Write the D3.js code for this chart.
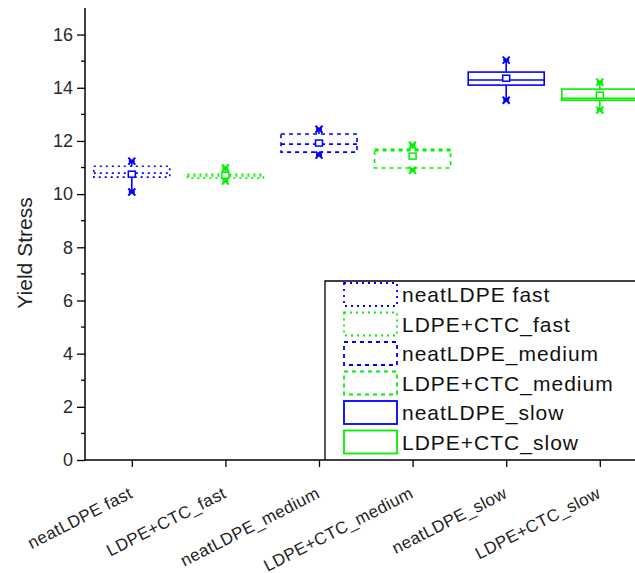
<!DOCTYPE html>
<html><head><meta charset="utf-8">
<script src="https://cdn.jsdelivr.net/npm/d3@7"></script>
<style>body{margin:0;background:#fff}svg{display:block}text{font-family:"Liberation Sans",Arial,sans-serif}</style>
</head><body>
<svg id="c" width="635" height="573"></svg>
<script>
const categories = ["neatLDPE fast","LDPE+CTC_fast","neatLDPE_medium","LDPE+CTC_medium","neatLDPE_slow","LDPE+CTC_slow"];
const legendLabels = ["neatLDPE fast","LDPE+CTC_fast","neatLDPE_medium","LDPE+CTC_medium","neatLDPE_slow","LDPE+CTC_slow"];
const whiskerLow  = [10.08, 10.49, 11.47, 10.90, 13.53, 13.16];
const q1          = [10.64, 10.60, 11.58, 10.98, 14.10, 13.53];
const median      = [10.79, 10.68, 11.88, 11.63, 14.29, 13.60];
const q3          = [11.05, 10.75, 12.26, 11.69, 14.59, 13.95];
const whiskerHigh = [11.24, 10.98, 12.44, 11.84, 15.04, 14.21];
const means       = [10.75, 10.71, 11.92, 11.43, 14.36, 13.72];
const yTicks = [0,2,4,6,8,10,12,14,16];

const colors = ["#0000ff","#00f000","#0000ff","#00f000","#0000ff","#00f000"];
const dashes = ["2,4","2,4","4,4","4,4",null,null];

const svg = d3.select("#c");
const x = d3.scaleLinear().domain([0.5, 6.5]).range([85, 646.6]);
const y = d3.scaleLinear().domain([0, 17]).range([460, 8]);

// axes
const yAxis = d3.axisLeft(y).tickValues(yTicks).tickSize(8).tickPadding(4).tickFormat(d3.format("d"));
const gy = svg.append("g").attr("transform","translate(85,0)").call(yAxis);
gy.select(".domain").attr("d","M0,"+y(17)+"V"+y(0)).attr("stroke","#000").attr("stroke-width",1.5);
gy.selectAll(".tick line").attr("stroke","#000").attr("stroke-width",1.3);
gy.selectAll(".tick text").attr("font-size",18).attr("fill","#2a2a2a").attr("font-family","Liberation Sans, Arial");
// minor ticks
const minor = d3.range(1,17,2);
svg.append("g").selectAll("line").data(minor).join("line")
  .attr("x1",81).attr("x2",85).attr("y1",d=>y(d)).attr("y2",d=>y(d)).attr("stroke","#000").attr("stroke-width",1.3);

const xAxis = d3.axisBottom(x).tickValues([1,2,3,4,5,6]).tickSize(7).tickFormat("");
const gx = svg.append("g").attr("transform","translate(0,460)").call(xAxis);
gx.select(".domain").attr("d","M85,0H635").attr("stroke","#000").attr("stroke-width",1.5);
gx.selectAll(".tick line").attr("stroke","#000").attr("stroke-width",1.3);

svg.append("g").selectAll("text").data(categories).join("text")
  .attr("transform",(d,i)=>`translate(${x(i+1)+2},${497}) rotate(-27)`)
  .attr("text-anchor","end").attr("font-size",17).attr("letter-spacing","0.4").attr("fill","#222").text(d=>d);

svg.append("text").attr("transform","translate(32,253) rotate(-90)").attr("text-anchor","middle")
  .attr("font-size",21).attr("fill","#222").text("Yield Stress");

// boxes
const bw = 76;
const g = svg.append("g");
categories.forEach((c,i)=>{
  const cx = x(i+1), col = colors[i], da = dashes[i];
  const gg = g.append("g").attr("stroke",col).attr("fill","none").attr("stroke-width",1.6);
  gg.append("rect").attr("x",cx-bw/2).attr("y",y(q3[i])).attr("width",bw).attr("height",y(q1[i])-y(q3[i])).attr("stroke-dasharray",da);
  gg.append("line").attr("x1",cx-bw/2).attr("x2",cx+bw/2).attr("y1",y(median[i])).attr("y2",y(median[i])).attr("stroke-dasharray",da);
  gg.append("line").attr("x1",cx).attr("x2",cx).attr("y1",y(q3[i])).attr("y2",y(whiskerHigh[i]));
  gg.append("line").attr("x1",cx).attr("x2",cx).attr("y1",y(q1[i])).attr("y2",y(whiskerLow[i]));
  [whiskerHigh[i], whiskerLow[i]].forEach(v=>{
    const yy = y(v);
    gg.append("path").attr("d",`M${cx-3.5},${yy-3.5}L${cx+3.5},${yy+3.5}M${cx+3.5},${yy-3.5}L${cx-3.5},${yy+3.5}M${cx-3},${yy}H${cx+3}`).attr("stroke-width",2);
  });
  gg.append("rect").attr("x",cx-3.5).attr("y",y(means[i])-3).attr("width",7).attr("height",6).attr("fill","#fff").attr("stroke-width",1.5);
});

// legend
const lg = svg.append("g");
lg.append("path").attr("d","M325,460V281H636").attr("fill","none").attr("stroke","#000").attr("stroke-width",1.3);
legendLabels.forEach((t,i)=>{
  const top = 283 + i*29.5;
  lg.append("rect").attr("x",344).attr("y",top).attr("width",53).attr("height",23)
    .attr("fill","none").attr("stroke",colors[i]).attr("stroke-width",1.8).attr("stroke-dasharray",dashes[i]);
  lg.append("text").attr("x",402).attr("y",top+19).attr("font-size",21).attr("letter-spacing","1").attr("fill","#111").text(t);
});
</script>
</body></html>
